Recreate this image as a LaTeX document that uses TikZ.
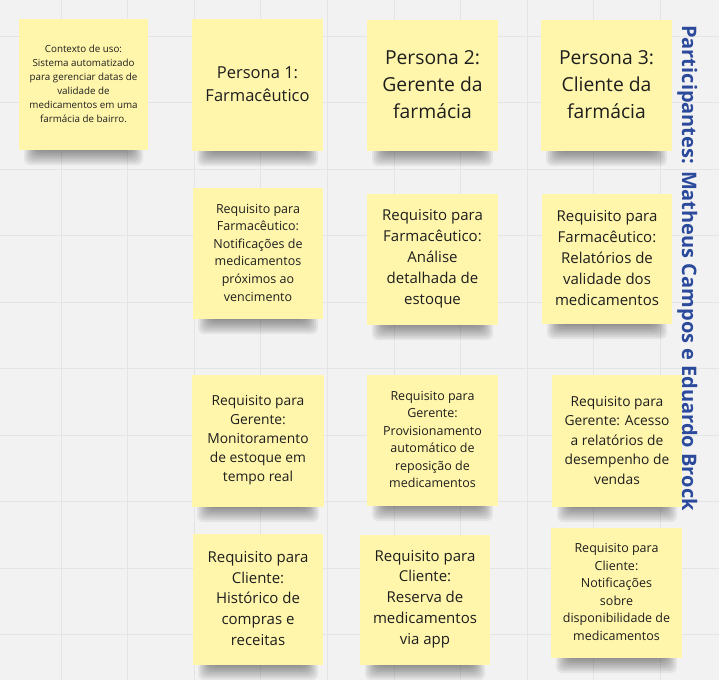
\documentclass[tikz,border=0pt]{standalone}
\usepackage{fontspec}
\setmainfont{Open Sans}
\definecolor{bg}{HTML}{F2F2F2}
\definecolor{gridc}{HTML}{E4E4E4}
\definecolor{notey}{HTML}{FFF6AB}
\definecolor{inkc}{HTML}{1E1E1E}
\definecolor{partblue}{HTML}{2B4A9C}
\tikzset{
  notebox/.style={fill=notey, draw=none},
  notetext/.style={align=center, text=inkc, inner sep=0pt},
  shadowpiece/.style={fill=black, fill opacity=0.06, rounded corners=6pt},
  gridline/.style={draw=gridc, line width=1pt},
}
% name, left, top, right, bottom, font size, baselineskip, text
\newcommand\stickynote[8]{%
  \foreach \k in {0,...,7}{%
    \fill[shadowpiece] ({#2+5+\k*1.8},{#5-4}) rectangle ({#4-5-\k*1.8},{#5+15-2*\k});
  }%
  \fill[notebox] (#2,#3) rectangle (#4,#5);
  \node[notetext, font=\fontsize{#6}{#7}\selectfont] (#1) at ({(#2+#4)/2},{(#3+#5)/2-1}) {#8};
}
\begin{document}
\begin{tikzpicture}[x=1pt, y=-1pt]
  \useasboundingbox (0,0) rectangle (719,680);
  \fill[bg] (0,0) rectangle (719,680);
  \foreach \i in {0,...,9}{
    \draw[gridline] ({61+66.6*\i},0) -- ({61+66.6*\i},680);
    \draw[gridline] (0,{36+66.5*\i}) -- (719,{36+66.5*\i});
  }
  \stickynote{ctx}{19}{19}{148}{150}{9.8}{14}{Contexto de uso:\\Sistema automatizado\\para gerenciar datas de\\validade de\\medicamentos em uma\\farmácia de bairro.}
  \stickynote{p1}{192}{19}{323}{151}{16.5}{23}{Persona 1:\\Farmacêutico}
  \stickynote{p2}{367}{20}{498}{151}{19.3}{27}{Persona 2:\\Gerente da\\farmácia}
  \stickynote{p3}{541}{20}{672}{151}{19.3}{27}{Persona 3:\\Cliente da\\farmácia}
  \stickynote{f1}{193}{188}{323}{319}{12.5}{17.6}{Requisito para\\Farmacêutico:\\Notificações de\\medicamentos\\próximos ao\\vencimento}
  \stickynote{f2}{367}{194}{498}{325}{15}{21}{Requisito para\\Farmacêutico:\\Análise\\detalhada de\\estoque}
  \stickynote{f3}{542}{194}{672}{324}{15}{21}{Requisito para\\Farmacêutico:\\Relatórios de\\validade dos\\medicamentos}
  \stickynote{g1}{192}{375}{324}{507}{13.8}{19.2}{Requisito para\\Gerente:\\Monitoramento\\de estoque em\\tempo real}
  \stickynote{g2}{367}{375}{498}{506}{12.5}{17.4}{Requisito para\\Gerente:\\Provisionamento\\automático de\\reposição de\\medicamentos}
  \stickynote{g3}{552}{375}{682}{507}{13.8}{19.5}{Requisito para\\Gerente: Acesso\\a relatórios de\\desempenho de\\vendas}
  \stickynote{c1}{193}{534}{323}{665}{15}{20.8}{Requisito para\\Cliente:\\Histórico de\\compras e\\receitas}
  \stickynote{c2}{360}{535}{490}{665}{15}{20.8}{Requisito para\\Cliente:\\Reserva de\\medicamentos\\via app}
  \stickynote{c3}{551}{528}{682}{658}{12.5}{17.5}{Requisito para\\Cliente:\\Notificações\\sobre\\disponibilidade de\\medicamentos}
  \node[rotate=-90, anchor=base, text=partblue, inner sep=0pt,
        font=\bfseries\fontsize{20}{24}\selectfont] (part) at (682,268)
        {Participantes: Matheus Campos e Eduardo Brock};
\end{tikzpicture}
\end{document}
